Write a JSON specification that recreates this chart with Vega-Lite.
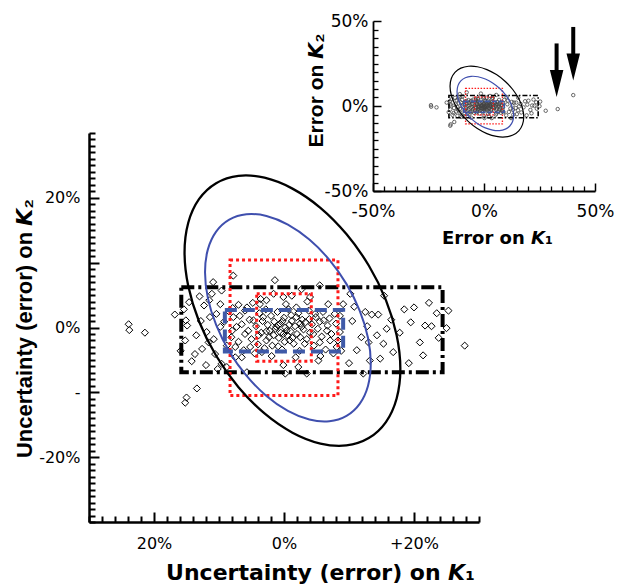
{
  "$schema": "https://vega.github.io/schema/vega-lite/v6.json",
  "width": 620,
  "height": 585,
  "autosize": "none",
  "padding": 0,
  "background": "white",
  "config": {
    "view": {"stroke": null},
    "axis": {"grid": false, "domainColor": "black", "tickColor": "black", "labelColor": "black", "titleColor": "black", "labelFont": "DejaVu Sans", "titleFont": "DejaVu Sans", "titleFontWeight": "bold", "labelFlush": false, "labelOverlap": false, "labelBound": false}
  },
  "datasets": {
    "pts": [
      {"x":-23.9,"y":0.5},{"x":-23.8,"y":-0.4},{"x":-21.4,"y":-0.8},{"x":-16.8,"y":2.0},{"x":-15.4,"y":2.8},{"x":-15.1,"y":1.1},{"x":-14.9,"y":0.3},{"x":-15.2,"y":-2.0},{"x":-15.9,"y":-3.6},{"x":-13.7,"y":-4.1},
      {"x":-13.4,"y":-9.4},{"x":-15.0,"y":-10.8},{"x":-15.2,"y":-11.6},{"x":-11.9,"y":-0.7},{"x":-11.6,"y":-2.3},{"x":-10.9,"y":7.0},{"x":-11.1,"y":5.2},{"x":-9.6,"y":5.7},{"x":-10.4,"y":2.1},{"x":-11.4,"y":1.6},
      {"x":-9.8,"y":0.1},{"x":-10.6,"y":-4.1},{"x":-9.6,"y":-5.6},{"x":-7.8,"y":8.0},{"x":-7.0,"y":3.5},{"x":-5.7,"y":3.1},{"x":-7.8,"y":1.6},{"x":-7.3,"y":0.1},{"x":-8.1,"y":-1.5},{"x":-7.5,"y":-3.0},
      {"x":-6.5,"y":-4.6},{"x":-5.7,"y":-6.9},{"x":-5.2,"y":-3.0},{"x":-6.0,"y":-1.0},{"x":-4.7,"y":1.1},{"x":-3.7,"y":3.6},{"x":-2.7,"y":4.2},{"x":-1.4,"y":7.3},{"x":-1.6,"y":5.2},{"x":-0.1,"y":4.7},
      {"x":1.2,"y":4.9},{"x":-3.2,"y":1.6},{"x":-2.2,"y":-0.5},{"x":-2.7,"y":-2.0},{"x":-3.4,"y":-3.8},{"x":-1.6,"y":-1.2},{"x":-0.9,"y":0.3},{"x":-0.1,"y":-1.0},{"x":0.4,"y":-0.5},{"x":0.9,"y":-2.0},
      {"x":1.9,"y":1.6},{"x":2.7,"y":0.1},{"x":2.5,"y":-1.5},{"x":3.2,"y":-2.5},{"x":0.2,"y":-7.1},{"x":-0.1,"y":-5.8},{"x":2.2,"y":-6.1},{"x":3.5,"y":-7.1},{"x":2.7,"y":5.9},{"x":4.0,"y":4.7},
      {"x":5.5,"y":6.5},{"x":1.9,"y":3.1},{"x":4.8,"y":2.1},{"x":6.1,"y":1.1},{"x":6.6,"y":-0.5},{"x":7.1,"y":-2.0},{"x":5.5,"y":-2.3},{"x":4.5,"y":-1.0},{"x":5.3,"y":-5.1},{"x":8.1,"y":-3.0},
      {"x":8.6,"y":-0.7},{"x":7.8,"y":2.1},{"x":9.1,"y":3.6},{"x":10.2,"y":5.2},{"x":12.5,"y":2.4},{"x":13.5,"y":2.0},{"x":14.5,"y":2.0},{"x":15.4,"y":4.9},{"x":11.9,"y":-1.5},{"x":13.0,"y":-2.3},
      {"x":14.3,"y":-1.2},{"x":15.3,"y":-2.5},{"x":14.8,"y":-4.8},{"x":13.2,"y":-5.1},{"x":12.2,"y":-7.1},{"x":20.0,"y":3.1},{"x":21.7,"y":0.3},{"x":22.7,"y":0.2},{"x":23.5,"y":2.2},{"x":25.3,"y":2.6},
      {"x":25.0,"y":-0.1},{"x":20.9,"y":-2.3},{"x":21.4,"y":-4.3},{"x":27.8,"y":-2.8},{"x":-8.8,"y":-6.1},
      {"x":-8.5,"y":2.5},{"x":-8.0,"y":-0.5},{"x":-7.9,"y":3.0},{"x":-7.0,"y":-2.2},{"x":-6.8,"y":1.8},{"x":-6.5,"y":0.5},{"x":-6.2,"y":-3.5},{"x":-6.0,"y":2.6},{"x":-5.5,"y":-0.5},{"x":-5.3,"y":1.2},
      {"x":-5.0,"y":-1.8},{"x":-4.8,"y":3.8},{"x":-4.5,"y":-4.0},{"x":-4.3,"y":0.2},{"x":-4.0,"y":-2.6},{"x":-3.8,"y":2.2},{"x":-3.5,"y":-0.8},{"x":-3.3,"y":1.0},{"x":-3.0,"y":-3.2},{"x":-2.8,"y":2.8},
      {"x":-2.5,"y":0.4},{"x":-2.3,"y":-1.5},{"x":-2.0,"y":1.8},{"x":-1.8,"y":-2.8},{"x":-1.5,"y":0.9},{"x":-1.3,"y":-0.2},{"x":-1.0,"y":2.4},{"x":-0.8,"y":-1.6},{"x":-0.6,"y":0.6},{"x":-0.3,"y":-3.4},
      {"x":0.0,"y":1.5},{"x":0.2,"y":0.0},{"x":0.5,"y":-1.2},{"x":0.7,"y":2.8},{"x":1.0,"y":-0.6},{"x":1.2,"y":1.0},{"x":1.5,"y":-2.5},{"x":1.7,"y":0.2},{"x":2.0,"y":-1.0},{"x":2.2,"y":2.2},
      {"x":2.4,"y":-3.6},{"x":2.8,"y":1.2},{"x":3.0,"y":-0.3},{"x":3.3,"y":0.8},{"x":3.5,"y":-1.8},{"x":3.8,"y":2.6},{"x":4.0,"y":-0.8},{"x":4.3,"y":0.5},{"x":4.6,"y":-2.8},{"x":4.9,"y":1.6},
      {"x":5.2,"y":-0.2},{"x":5.5,"y":0.9},{"x":5.8,"y":-1.4},{"x":6.0,"y":2.4},{"x":6.4,"y":-3.4},{"x":6.7,"y":0.3},{"x":7.0,"y":1.4},{"x":7.3,"y":-1.0},{"x":7.6,"y":-4.0},{"x":8.0,"y":0.6},
      {"x":8.3,"y":-2.0},{"x":8.6,"y":1.8},{"x":-8.8,"y":-2.8},{"x":-9.2,"y":0.9},{"x":-7.5,"y":-4.6},{"x":-3.6,"y":4.4},{"x":0.3,"y":3.6},{"x":3.6,"y":4.0},{"x":6.8,"y":3.6},{"x":-1.9,"y":-4.4},
      {"x":1.8,"y":-4.6},{"x":5.6,"y":-4.4},{"x":8.8,"y":-3.6},{"x":-0.5,"y":-0.8},{"x":0.8,"y":0.4},{"x":-1.2,"y":0.1},{"x":1.3,"y":-1.6},{"x":-2.7,"y":-0.6},{"x":2.5,"y":0.6},{"x":-0.2,"y":1.0},
      {"x":0.1,"y":-2.2},{"x":-0.9,"y":-2.9},{"x":1.1,"y":1.9},{"x":-3.9,"y":-1.2},{"x":3.9,"y":1.3},
      {"x":-12.8,"y":1.0},{"x":-13.5,"y":-1.2},{"x":-12.3,"y":3.4},{"x":-14.2,"y":-5.2},{"x":-12.0,"y":-5.8},{"x":-10.8,"y":-1.8},{"x":-11.5,"y":4.2},{"x":-13.0,"y":4.8},{"x":-14.6,"y":3.9},{"x":-10.2,"y":-6.4},
      {"x":-9.8,"y":3.6},{"x":-12.6,"y":-3.3},
      {"x":10.5,"y":1.0},{"x":11.2,"y":-3.5},{"x":10.8,"y":3.2},{"x":16.5,"y":1.2},{"x":17.8,"y":-0.8},{"x":18.5,"y":2.8},{"x":16.8,"y":-3.8},{"x":19.2,"y":-5.5},{"x":22.3,"y":3.8},{"x":23.8,"y":-1.6},
      {"x":10.0,"y":-5.5},{"x":12.8,"y":0.2},{"x":15.8,"y":-0.2},{"x":19.5,"y":0.8}
    ],
    "extra": [{"x":33.2,"y":-1.8},{"x":40.2,"y":6.4}],
    "eblack": [
      {"i":0,"x":17.9,"y":-6.38},{"i":1,"x":17.33,"y":-1.2},{"i":2,"x":15.68,"y":4.23},{"i":3,"x":13.04,"y":9.56},{"i":4,"x":9.6,"y":14.41},{"i":5,"x":5.6,"y":18.46},
      {"i":6,"x":1.3,"y":21.42},{"i":7,"x":-3.0,"y":23.1},{"i":8,"x":-7.0,"y":23.39},{"i":9,"x":-10.44,"y":22.26},{"i":10,"x":-13.08,"y":19.79},{"i":11,"x":-14.73,"y":16.15},
      {"i":12,"x":-15.3,"y":11.58},{"i":13,"x":-14.73,"y":6.4},{"i":14,"x":-13.08,"y":0.97},{"i":15,"x":-10.44,"y":-4.36},{"i":16,"x":-7.0,"y":-9.21},{"i":17,"x":-3.0,"y":-13.26},
      {"i":18,"x":1.3,"y":-16.22},{"i":19,"x":5.6,"y":-17.9},{"i":20,"x":9.6,"y":-18.19},{"i":21,"x":13.04,"y":-17.06},{"i":22,"x":15.68,"y":-14.59},{"i":23,"x":17.33,"y":-10.95}
    ],
    "eblue": [
      {"i":0,"x":13.35,"y":-5.53},{"i":1,"x":12.92,"y":-1.57},{"i":2,"x":11.64,"y":2.6},{"i":3,"x":9.62,"y":6.69},{"i":4,"x":6.98,"y":10.43},{"i":5,"x":3.9,"y":13.56},
      {"i":6,"x":0.6,"y":15.87},{"i":7,"x":-2.7,"y":17.2},{"i":8,"x":-5.78,"y":17.46},{"i":9,"x":-8.42,"y":16.63},{"i":10,"x":-10.44,"y":14.78},{"i":11,"x":-11.72,"y":12.01},
      {"i":12,"x":-12.15,"y":8.53},{"i":13,"x":-11.72,"y":4.57},{"i":14,"x":-10.44,"y":0.4},{"i":15,"x":-8.42,"y":-3.69},{"i":16,"x":-5.78,"y":-7.43},{"i":17,"x":-2.7,"y":-10.56},
      {"i":18,"x":0.6,"y":-12.87},{"i":19,"x":3.9,"y":-14.2},{"i":20,"x":6.98,"y":-14.46},{"i":21,"x":9.62,"y":-13.63},{"i":22,"x":11.64,"y":-11.78},{"i":23,"x":12.92,"y":-9.01}
    ],
    "rblack": [{"x1":-15.8,"x2":24.4,"y1":-6.9,"y2":6.2}],
    "rredout": [{"x1":-8.3,"x2":8.3,"y1":-10.5,"y2":10.4}],
    "rredin": [{"x1":-4.2,"x2":4.2,"y1":-5.2,"y2":5.2}],
    "rblue": [{"x1":-9.1,"x2":9.1,"y1":-3.7,"y2":2.7}],
    "arrows": [{"x":32.7,"top":36.8,"head":13.3},{"x":40.2,"top":46.5,"head":23.0}],
    "dummy": [{"x":0,"y":0}]
  },
  "layer": [
    {
      "data": {"name": "pts"},
      "mark": {"type": "point", "shape": "diamond", "filled": false, "stroke": "black", "strokeWidth": 1, "size": 50, "opacity": 1},
      "encoding": {
        "x": {"field": "x", "type": "quantitative", "scale": {"domain": [-30, 30], "range": [89, 479], "nice": false, "zero": false},
          "axis": {"orient": "bottom", "offset": -63, "values": [-20, 0, 20], "labelExpr": "datum.value == -20 ? '20%' : datum.value == 0 ? '0%' : '+20%'", "tickSize": -10, "tickWidth": 2, "domainWidth": 2.5, "labelPadding": 23, "labelFontSize": 16, "title": "Uncertainty (error) on 𝙆₁", "titleFontSize": 22, "titleX": 320, "titleY": 57, "titleBaseline": "alphabetic"}},
        "y": {"field": "y", "type": "quantitative", "scale": {"domain": [-30, 30], "range": [522, 133], "nice": false, "zero": false},
          "axis": {"orient": "left", "offset": -89, "values": [-20, -10, 0, 10, 20], "labelExpr": "datum.value == 20 ? '20%' : datum.value == 0 ? '0%' : datum.value == -10 ? '-' : datum.value == -20 ? '-20%' : ''", "tickSize": -10, "tickWidth": 2, "domainWidth": 2.5, "labelPadding": 19, "labelFontSize": 16, "title": "Uncertainty (error) on 𝙆₂", "titleFont": "Liberation Sans", "titleFontSize": 22, "titleX": -65, "titleY": 328, "titleBaseline": "middle"}}
      }
    },
    {
      "data": {"name": "rblack"},
      "mark": {"type": "rect", "fillOpacity": 0, "stroke": "black", "strokeWidth": 4, "strokeDash": [13, 4, 3, 4]},
      "encoding": {
        "x": {"field": "x1", "type": "quantitative", "scale": {"domain": [-30, 30], "range": [89, 479], "nice": false, "zero": false}, "axis": null},
        "x2": {"field": "x2"},
        "y": {"field": "y1", "type": "quantitative", "scale": {"domain": [-30, 30], "range": [522, 133], "nice": false, "zero": false}, "axis": null},
        "y2": {"field": "y2"}
      }
    },
    {
      "data": {"name": "rredout"},
      "mark": {"type": "rect", "fillOpacity": 0, "stroke": "#ff1a1a", "strokeWidth": 3, "strokeDash": [3, 3]},
      "encoding": {
        "x": {"field": "x1", "type": "quantitative", "scale": {"domain": [-30, 30], "range": [89, 479], "nice": false, "zero": false}, "axis": null},
        "x2": {"field": "x2"},
        "y": {"field": "y1", "type": "quantitative", "scale": {"domain": [-30, 30], "range": [522, 133], "nice": false, "zero": false}, "axis": null},
        "y2": {"field": "y2"}
      }
    },
    {
      "data": {"name": "rredin"},
      "mark": {"type": "rect", "fillOpacity": 0, "stroke": "#ff1a1a", "strokeWidth": 3, "strokeDash": [3, 3]},
      "encoding": {
        "x": {"field": "x1", "type": "quantitative", "scale": {"domain": [-30, 30], "range": [89, 479], "nice": false, "zero": false}, "axis": null},
        "x2": {"field": "x2"},
        "y": {"field": "y1", "type": "quantitative", "scale": {"domain": [-30, 30], "range": [522, 133], "nice": false, "zero": false}, "axis": null},
        "y2": {"field": "y2"}
      }
    },
    {
      "data": {"name": "rblue"},
      "mark": {"type": "rect", "fillOpacity": 0, "stroke": "#3f5aa8", "strokeWidth": 4, "strokeDash": [12, 6]},
      "encoding": {
        "x": {"field": "x1", "type": "quantitative", "scale": {"domain": [-30, 30], "range": [89, 479], "nice": false, "zero": false}, "axis": null},
        "x2": {"field": "x2"},
        "y": {"field": "y1", "type": "quantitative", "scale": {"domain": [-30, 30], "range": [522, 133], "nice": false, "zero": false}, "axis": null},
        "y2": {"field": "y2"}
      }
    },
    {
      "data": {"name": "eblue"},
      "mark": {"type": "line", "interpolate": "cardinal-closed", "stroke": "#3f4fae", "strokeWidth": 2},
      "encoding": {
        "x": {"field": "x", "type": "quantitative", "scale": {"domain": [-30, 30], "range": [89, 479], "nice": false, "zero": false}, "axis": null},
        "y": {"field": "y", "type": "quantitative", "scale": {"domain": [-30, 30], "range": [522, 133], "nice": false, "zero": false}, "axis": null},
        "order": {"field": "i", "type": "quantitative"}
      }
    },
    {
      "data": {"name": "eblack"},
      "mark": {"type": "line", "interpolate": "cardinal-closed", "stroke": "black", "strokeWidth": 2.3},
      "encoding": {
        "x": {"field": "x", "type": "quantitative", "scale": {"domain": [-30, 30], "range": [89, 479], "nice": false, "zero": false}, "axis": null},
        "y": {"field": "y", "type": "quantitative", "scale": {"domain": [-30, 30], "range": [522, 133], "nice": false, "zero": false}, "axis": null},
        "order": {"field": "i", "type": "quantitative"}
      }
    },
    {
      "data": {"name": "dummy"},
      "mark": {"type": "point", "opacity": 0},
      "encoding": {
        "x": {"field": "x", "type": "quantitative", "scale": {"domain": [-30, 30], "range": [89, 479], "nice": false, "zero": false},
          "axis": {"orient": "bottom", "offset": -63, "values": [-30,-28,-26,-24,-22,-18,-16,-14,-12,-10,-8,-6,-4,-2,2,4,6,8,10,12,14,16,18,22,24,26,28,30], "labels": false, "domain": false, "tickSize": -6, "tickWidth": 2, "title": null}},
        "y": {"field": "y", "type": "quantitative", "scale": {"domain": [-30, 30], "range": [522, 133], "nice": false, "zero": false},
          "axis": {"orient": "left", "offset": -89, "values": [-30,-29,-28,-27,-26,-25,-24,-23,-22,-21,-19,-18,-17,-16,-15,-14,-13,-12,-11,-9,-8,-7,-6,-5,-4,-3,-2,-1,1,2,3,4,5,6,7,8,9,11,12,13,14,15,16,17,18,19,21,22,23,24,25,26,27,28,29,30], "labels": false, "domain": false, "tickSize": -6, "tickWidth": 2, "title": null}}
      }
    },
    {
      "data": {"name": "pts"},
      "mark": {"type": "point", "shape": "circle", "filled": false, "stroke": "#444444", "strokeWidth": 0.8, "size": 12, "opacity": 1},
      "encoding": {
        "x": {"field": "x", "type": "quantitative", "scale": {"domain": [-50, 50], "range": [373, 595], "nice": false, "zero": false},
          "axis": {"orient": "bottom", "offset": -394, "values": [-50, 0, 50], "labelExpr": "datum.value + '%'", "tickSize": -8, "tickWidth": 1.5, "domainWidth": 1.8, "labelPadding": 20, "labelFontSize": 17, "labelDx": 5, "title": "Error on 𝙆₁", "titleFontSize": 18, "titleX": 497, "titleY": 52, "titleBaseline": "alphabetic"}},
        "y": {"field": "y", "type": "quantitative", "scale": {"domain": [-50, 50], "range": [191, 21], "nice": false, "zero": false},
          "axis": {"orient": "left", "offset": -373, "values": [-50, 0, 50], "labelExpr": "datum.value + '%'", "tickSize": -8, "tickWidth": 1.5, "domainWidth": 1.8, "labelPadding": 13, "labelFontSize": 17, "title": "Error on 𝙆₂", "titleFont": "Liberation Sans", "titleFontSize": 21, "titleX": -57, "titleY": 90, "titleBaseline": "middle"}}
      }
    },
    {
      "data": {"name": "extra"},
      "mark": {"type": "point", "shape": "circle", "filled": false, "stroke": "#444444", "strokeWidth": 0.8, "size": 12, "opacity": 1},
      "encoding": {
        "x": {"field": "x", "type": "quantitative", "scale": {"domain": [-50, 50], "range": [373, 595], "nice": false, "zero": false}, "axis": null},
        "y": {"field": "y", "type": "quantitative", "scale": {"domain": [-50, 50], "range": [191, 21], "nice": false, "zero": false}, "axis": null}
      }
    },
    {
      "data": {"name": "rblack"},
      "mark": {"type": "rect", "fillOpacity": 0, "stroke": "black", "strokeWidth": 1.6, "strokeDash": [5, 2, 1.5, 2]},
      "encoding": {
        "x": {"field": "x1", "type": "quantitative", "scale": {"domain": [-50, 50], "range": [373, 595], "nice": false, "zero": false}, "axis": null},
        "x2": {"field": "x2"},
        "y": {"field": "y1", "type": "quantitative", "scale": {"domain": [-50, 50], "range": [191, 21], "nice": false, "zero": false}, "axis": null},
        "y2": {"field": "y2"}
      }
    },
    {
      "data": {"name": "rredout"},
      "mark": {"type": "rect", "fillOpacity": 0, "stroke": "#ff1a1a", "strokeWidth": 1.3, "strokeDash": [1.5, 1.5]},
      "encoding": {
        "x": {"field": "x1", "type": "quantitative", "scale": {"domain": [-50, 50], "range": [373, 595], "nice": false, "zero": false}, "axis": null},
        "x2": {"field": "x2"},
        "y": {"field": "y1", "type": "quantitative", "scale": {"domain": [-50, 50], "range": [191, 21], "nice": false, "zero": false}, "axis": null},
        "y2": {"field": "y2"}
      }
    },
    {
      "data": {"name": "rredin"},
      "mark": {"type": "rect", "fillOpacity": 0, "stroke": "#ff1a1a", "strokeWidth": 1.3, "strokeDash": [1.5, 1.5]},
      "encoding": {
        "x": {"field": "x1", "type": "quantitative", "scale": {"domain": [-50, 50], "range": [373, 595], "nice": false, "zero": false}, "axis": null},
        "x2": {"field": "x2"},
        "y": {"field": "y1", "type": "quantitative", "scale": {"domain": [-50, 50], "range": [191, 21], "nice": false, "zero": false}, "axis": null},
        "y2": {"field": "y2"}
      }
    },
    {
      "data": {"name": "rblue"},
      "mark": {"type": "rect", "fillOpacity": 0, "stroke": "#3f5aa8", "strokeWidth": 1.6, "strokeDash": [5, 2]},
      "encoding": {
        "x": {"field": "x1", "type": "quantitative", "scale": {"domain": [-50, 50], "range": [373, 595], "nice": false, "zero": false}, "axis": null},
        "x2": {"field": "x2"},
        "y": {"field": "y1", "type": "quantitative", "scale": {"domain": [-50, 50], "range": [191, 21], "nice": false, "zero": false}, "axis": null},
        "y2": {"field": "y2"}
      }
    },
    {
      "data": {"name": "eblue"},
      "mark": {"type": "line", "interpolate": "cardinal-closed", "stroke": "#3f4fae", "strokeWidth": 1.2},
      "encoding": {
        "x": {"field": "x", "type": "quantitative", "scale": {"domain": [-50, 50], "range": [373, 595], "nice": false, "zero": false}, "axis": null},
        "y": {"field": "y", "type": "quantitative", "scale": {"domain": [-50, 50], "range": [191, 21], "nice": false, "zero": false}, "axis": null},
        "order": {"field": "i", "type": "quantitative"}
      }
    },
    {
      "data": {"name": "eblack"},
      "mark": {"type": "line", "interpolate": "cardinal-closed", "stroke": "black", "strokeWidth": 1.2},
      "encoding": {
        "x": {"field": "x", "type": "quantitative", "scale": {"domain": [-50, 50], "range": [373, 595], "nice": false, "zero": false}, "axis": null},
        "y": {"field": "y", "type": "quantitative", "scale": {"domain": [-50, 50], "range": [191, 21], "nice": false, "zero": false}, "axis": null},
        "order": {"field": "i", "type": "quantitative"}
      }
    },
    {
      "data": {"name": "arrows"},
      "mark": {"type": "rule", "stroke": "black", "strokeWidth": 4},
      "encoding": {
        "x": {"field": "x", "type": "quantitative", "scale": {"domain": [-50, 50], "range": [373, 595], "nice": false, "zero": false}, "axis": null},
        "y": {"field": "top", "type": "quantitative", "scale": {"domain": [-50, 50], "range": [191, 21], "nice": false, "zero": false}, "axis": null},
        "y2": {"field": "head"}
      }
    },
    {
      "data": {"name": "arrows"},
      "mark": {"type": "point", "shape": "M-0.5,-1L0.5,-1L0,1Z", "filled": true, "fill": "black", "stroke": null, "size": 729, "opacity": 1},
      "encoding": {
        "x": {"field": "x", "type": "quantitative", "scale": {"domain": [-50, 50], "range": [373, 595], "nice": false, "zero": false}, "axis": null},
        "y": {"field": "head", "type": "quantitative", "scale": {"domain": [-50, 50], "range": [191, 21], "nice": false, "zero": false}, "axis": null}
      }
    },
    {
      "data": {"name": "dummy"},
      "mark": {"type": "point", "opacity": 0},
      "encoding": {
        "x": {"field": "x", "type": "quantitative", "scale": {"domain": [-50, 50], "range": [373, 595], "nice": false, "zero": false},
          "axis": {"orient": "bottom", "offset": -394, "values": [-45,-40,-35,-30,-25,-20,-15,-10,-5,5,10,15,20,25,30,35,40,45], "labels": false, "domain": false, "tickSize": -5, "tickWidth": 1.3, "title": null}},
        "y": {"field": "y", "type": "quantitative", "scale": {"domain": [-50, 50], "range": [191, 21], "nice": false, "zero": false},
          "axis": {"orient": "left", "offset": -373, "values": [-45,-40,-35,-30,-25,-20,-15,-10,-5,5,10,15,20,25,30,35,40,45], "labels": false, "domain": false, "tickSize": -5, "tickWidth": 1.3, "title": null}}
      }
    }
  ],
  "resolve": {"scale": {"x": "independent", "y": "independent"}, "axis": {"x": "independent", "y": "independent"}}
}
